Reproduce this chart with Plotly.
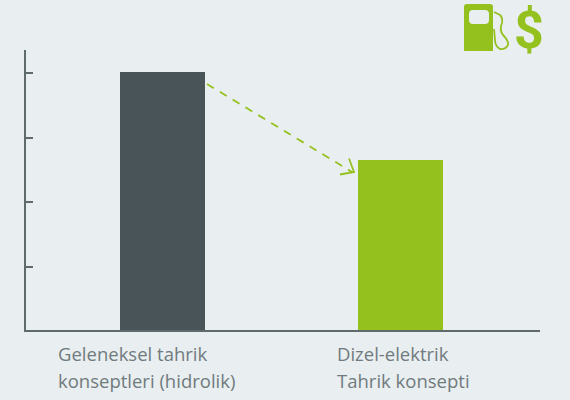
import plotly.graph_objects as go

categories_line1 = ["Geleneksel tahrik", "Dizel-elektrik"]
categories_line2 = ["konseptleri (hidrolik)", "Tahrik konsepti"]
values = [4.0, 2.64]
bar_colors = ["#485457", "#95c11f"]
y_ticks = [0.98, 1.98, 2.98, 3.98]

W, H = 570, 400
BG = "#e9eef0"
GREEN = "#95c11f"
AXIS = "#5f6a6d"
L, R, T, B = 26, 540, 50, 330


def px(x):
    return (x - L) / (R - L)


def py(y):
    return (B - y) / (B - T)


def P(x, y):
    return f"{px(x):.5f},{py(y):.5f}"


fig = go.Figure()
fig.add_trace(go.Bar(x=[0, 1], y=values, width=0.357, marker=dict(color=bar_colors, line_width=0),
                     hoverinfo="skip", showlegend=False))

shapes = [
    dict(type="line", xref="paper", yref="paper", x0=px(207), y0=py(84), x1=px(352), y1=py(172),
         line=dict(color=GREEN, width=1.8, dash="8px,7px")),
    dict(type="path", xref="paper", yref="paper",
         path=f"M{P(349,158.5)} L{P(354,172)} L{P(340,174.5)}",
         line=dict(color=GREEN, width=1.8)),
    # fuel pump body
    dict(type="path", xref="paper", yref="paper",
         path=f"M{P(464,51)} L{P(464,7)} Q{P(464,4)} {P(467,4)} L{P(490,4)} Q{P(493,4)} {P(493,7)} L{P(493,51)} Z "
              f"M{P(473,10)} Q{P(469,10)} {P(469,14)} L{P(469,20)} Q{P(469,24)} {P(473,24)} "
              f"L{P(485,24)} Q{P(489,24)} {P(489,20)} L{P(489,14)} Q{P(489,10)} {P(485,10)} Z",
         fillcolor=GREEN, line_width=0),
    # fuel pump hose
    dict(type="path", xref="paper", yref="paper",
         path=f"M{P(494,12)} L{P(500,15)} Q{P(503,18)} {P(502,23)} Q{P(499,30)} {P(503,35)} "
              f"Q{P(509,41)} {P(508,45)} Q{P(505,50)} {P(500,49)} Q{P(495,46)} {P(495,40)} L{P(494,29)}",
         line=dict(color=GREEN, width=1.8)),
]

label_font = dict(family="Open Sans", size=18.5, color="#707b7e")
annotations = []
for i, dx in enumerate([-106.5, -65.5]):
    for lines, ys in ((categories_line1, -9), (categories_line2, -36)):
        annotations.append(dict(x=i, y=0, xref="x", yref="y", yshift=ys, xshift=dx, text=lines[i], showarrow=False,
                                xanchor="left", yanchor="top", align="left", font=label_font))
annotations.append(dict(x=px(528.5), y=py(30.5), xref="paper", yref="paper", text="<b>$</b>", showarrow=False,
                        xanchor="center", yanchor="middle",
                        font=dict(family="Roboto", size=52, color=GREEN, weight=900)))

fig.update_layout(
    width=W, height=H, paper_bgcolor=BG, plot_bgcolor=BG, autosize=False,
    margin=dict(l=L, r=W - R, t=T, b=H - B), bargap=0, shapes=shapes, annotations=annotations,
    xaxis=dict(range=[-0.5735, 1.586], showticklabels=False, ticks="", showgrid=False, zeroline=False,
               showline=True, linecolor=AXIS, linewidth=1.5, tickvals=[0, 1], fixedrange=True),
    yaxis=dict(range=[0, 4.341], tickvals=y_ticks, showticklabels=False, ticks="inside", ticklen=7, tickwidth=1.5,
               tickcolor=AXIS, showgrid=False, zeroline=False, showline=True, linecolor=AXIS, linewidth=1.5,
               fixedrange=True),
)
fig.write_html("out.html", config={"displayModeBar": False},
               post_script="document.body.style.margin='0';document.body.style.background='%s';" % BG)
